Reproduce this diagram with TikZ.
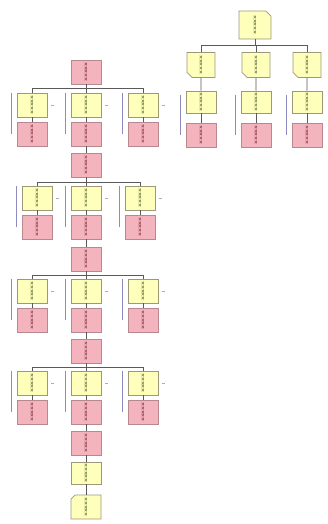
\documentclass[tikz,border=0pt]{standalone}
\usetikzlibrary{shapes.misc}
\definecolor{yfill}{HTML}{FFFFBC}
\definecolor{ydraw}{HTML}{9C9878}
\definecolor{pfill}{HTML}{F4B4BE}
\definecolor{pdraw}{HTML}{B88890}
\definecolor{linec}{HTML}{5A5A5A}
\definecolor{bluel}{HTML}{8C8CC0}
\definecolor{ytext}{HTML}{4A5A28}
\definecolor{ptext}{HTML}{7A2838}
\tikzset{
  basebox/.style={rectangle, inner sep=0pt, minimum width=30pt, minimum height=24pt, line width=0.8pt},
  ybox/.style={basebox, draw=ydraw, fill=yfill, text=ytext},
  pbox/.style={basebox, draw=pdraw, fill=pfill, text=ptext},
  cyne/.style={ybox, chamfered rectangle, chamfered rectangle xsep=4pt, chamfered rectangle ysep=4pt, chamfered rectangle corners=north east},
  cysw/.style={ybox, chamfered rectangle, chamfered rectangle xsep=4pt, chamfered rectangle ysep=4pt, chamfered rectangle corners=south west},
  cynw/.style={ybox, chamfered rectangle, chamfered rectangle xsep=3pt, chamfered rectangle ysep=3pt, chamfered rectangle corners=north west},
  conn/.style={draw=linec, line width=0.7pt},
  bl/.style={draw=bluel, line width=0.9pt},
}
\newcommand{\mk}{\rotatebox{90}{\fontsize{5}{5}\selectfont\bfseries xxxxx}}
\begin{document}
\begin{tikzpicture}[x=1pt,y=-1pt]
\useasboundingbox (0,0) rectangle (327,524);
\fill[white] (0,0) rectangle (327,524);
% ---------- right tree ----------
\node[cyne, minimum width=32pt, minimum height=28pt] (R) at (255,25) {\mk};
\coordinate (rbus) at (255,45);
\foreach \i/\x in {1/201,2/256,3/307}{
  \node[cysw, minimum width=28pt, minimum height=25pt] (r\i) at (\x,65) {\mk};
  \node[ybox, minimum height=22pt] (rs\i) at (\x,102) {\mk};
  \node[pbox] (rp\i) at (\x,135) {\mk};
  \draw[conn] (r\i.north |- rbus) -- (r\i.north);
  \draw[conn] (r\i) -- (rs\i);
  \draw[conn] (rs\i) -- (rp\i);
  \draw[bl] ([xshift=-5pt,yshift=-4pt]rs\i.north west) -- ([xshift=-5pt]rs\i.north west |- rp\i.center);
}
\draw[conn] (R) -- (rbus);
\draw[conn] (r1.north |- rbus) -- (r3.north |- rbus);
% ---------- left tree ----------
\node[pbox] (P1) at (86,72) {\mk};
\node[pbox] (P2) at (86,165) {\mk};
\node[pbox] (P3) at (86,259) {\mk};
\node[pbox] (P4) at (86,351) {\mk};
\node[pbox] (P5) at (86,443) {\mk};
\node[ybox, minimum height=22pt] (Y1) at (86,473) {\mk};
\node[cynw] (Y2) at (86,507) {\mk};
\coordinate (b1) at (86,88);
\coordinate (b2) at (86,182);
\coordinate (b3) at (86,275);
\coordinate (b4) at (86,367);
\foreach \g/\pn/\nxt/\yy/\yp/\xa/\xc in {1/P1/P2/105/134/32/143, 2/P2/P3/198/227/37/140, 3/P3/P4/291/320/32/143, 4/P4/P5/383/412/32/143}{
  \foreach \i/\x in {1/\xa,2/86,3/\xc}{
    \node[ybox] (g\g y\i) at (\x,\yy) {\mk};
    \node[pbox] (g\g p\i) at (\x,\yp) {\mk};
    \draw[conn] (g\g y\i.north |- b\g) -- (g\g y\i.north);
    \draw[conn] (g\g y\i) -- (g\g p\i);
    \draw[bl] ([xshift=-5pt]g\g y\i.north west) -- ([xshift=-5pt]g\g y\i.north west |- g\g p\i.center);
    \draw[draw=linec!50, line width=0.5pt] ([xshift=4pt]g\g y\i.east) -- ([xshift=7pt]g\g y\i.east);
  }
  \draw[conn] (\pn) -- (b\g);
  \draw[conn] (g\g y1.north |- b\g) -- (g\g y3.north |- b\g);
  \draw[conn] (g\g p2) -- (\nxt);
}
\draw[conn] (P5) -- (Y1);
\draw[conn] (Y1) -- (Y2);
\end{tikzpicture}
\end{document}
